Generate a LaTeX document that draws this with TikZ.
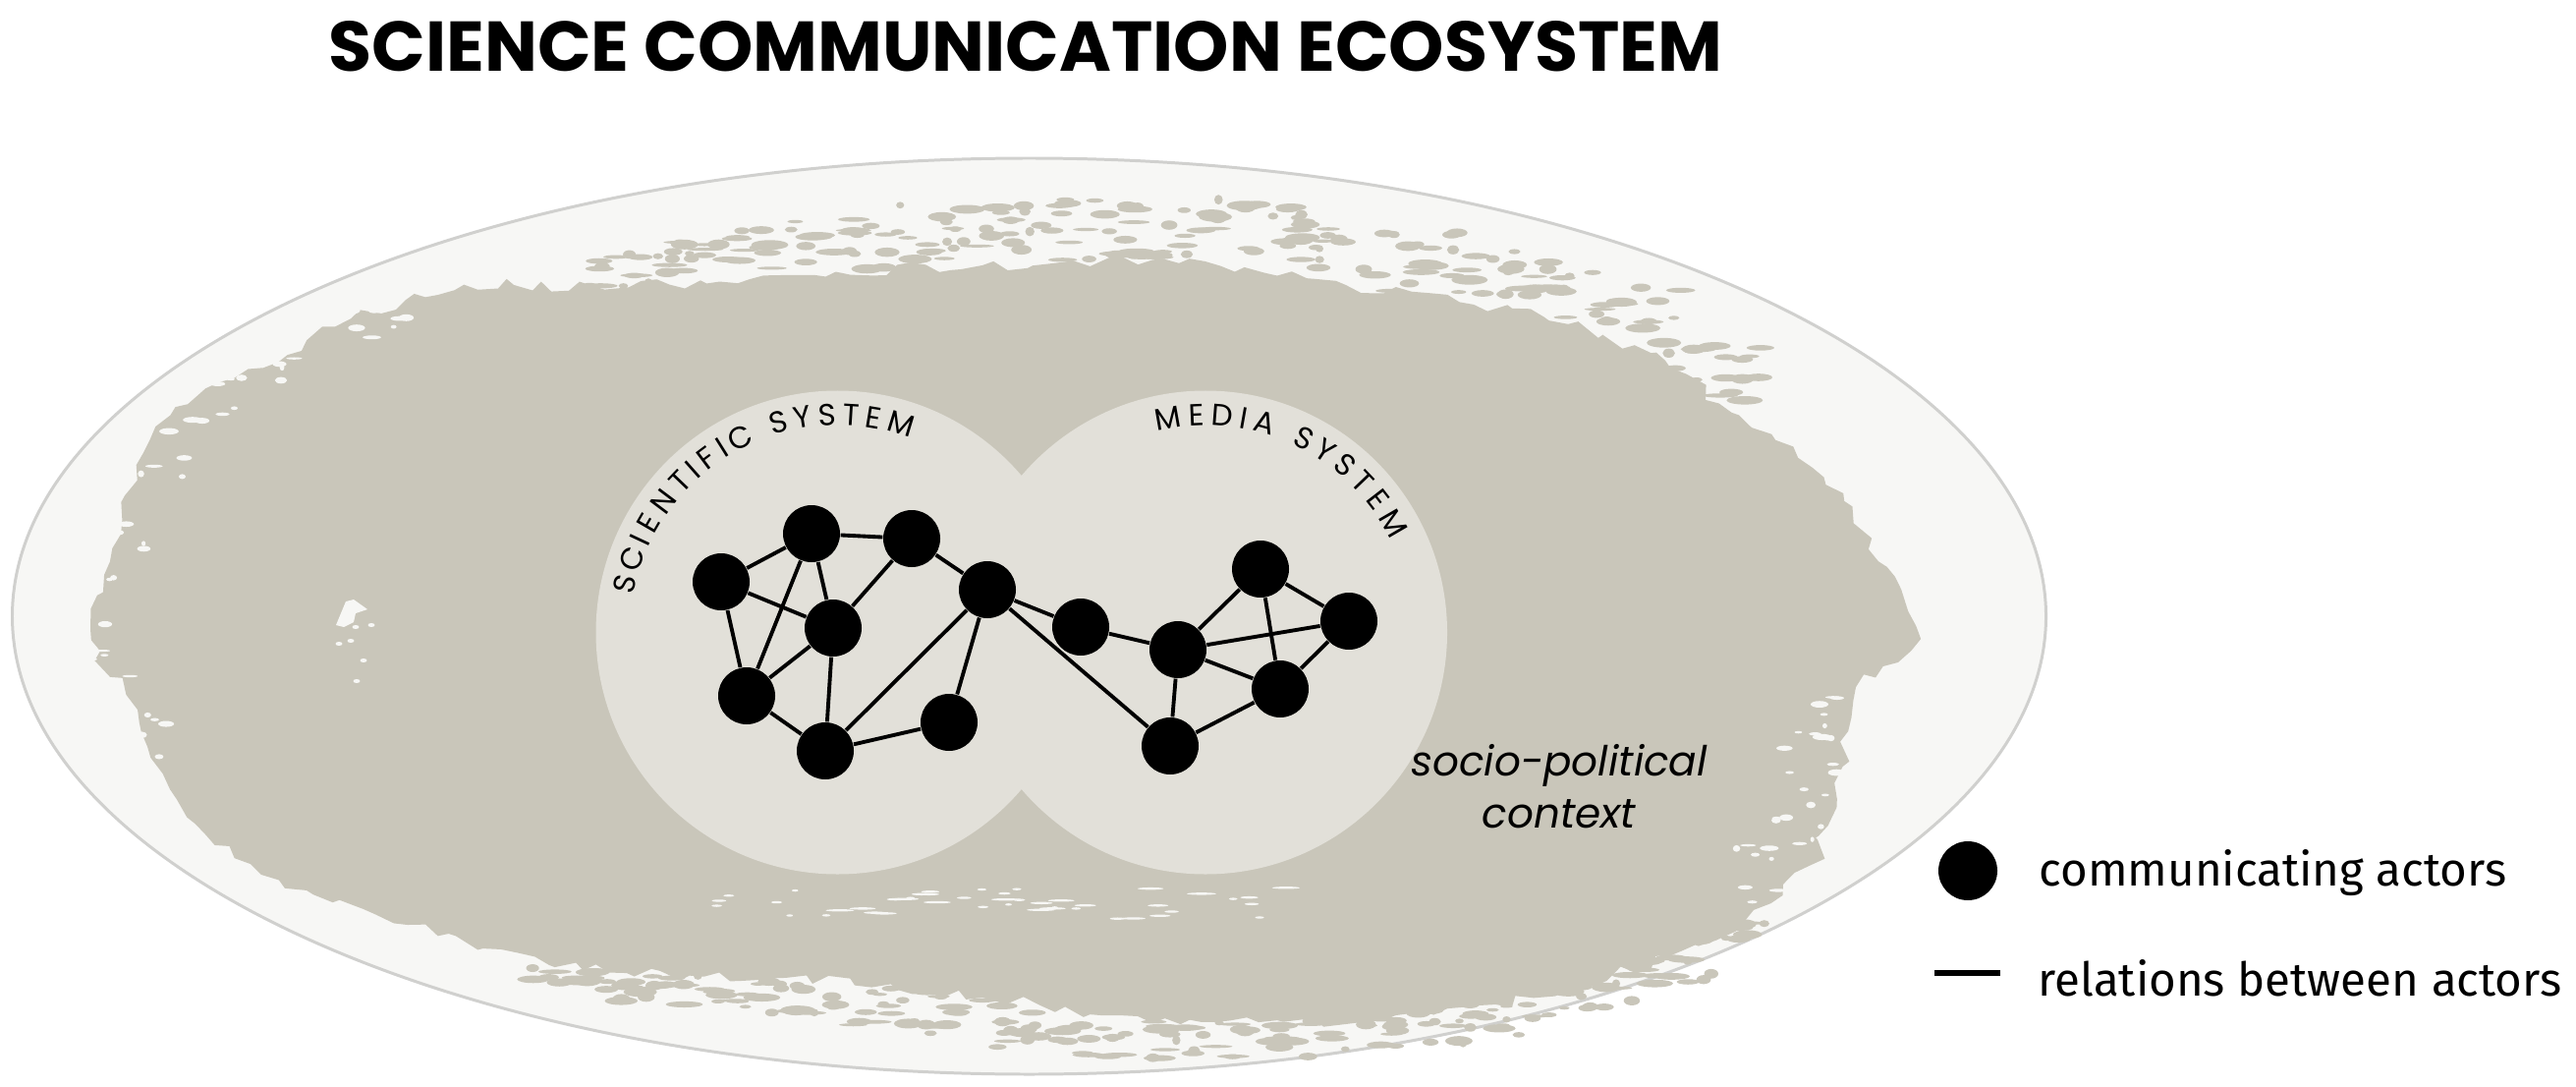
\documentclass[tikz,border=0pt]{standalone}
\usepackage{fontspec}
\setmainfont{Fira Sans}
\newfontfamily\headfont{Poppins}
\usepackage{tikz}
\usetikzlibrary{decorations.pathmorphing, positioning}
\definecolor{ctxfill}{RGB}{247,247,245}
\definecolor{ctxline}{RGB}{208,208,206}
\definecolor{brush}{RGB}{201,198,186}
\definecolor{sysfill}{RGB}{226,224,217}
\tikzset{
  actor/.style={circle, fill=black, minimum size=0.58cm, inner sep=0pt},
  relation/.style={line width=1.1pt, black},
  system/.style={circle, fill=sysfill, minimum size=4.92cm, inner sep=0pt},
  rough/.style={decorate, decoration={random steps, segment length=4pt, amplitude=1.8pt}},
  arcletter/.style={anchor=base, inner sep=0pt, font=\headfont\fontsize{8.8}{10}\selectfont},
  legendtext/.style={anchor=base west, inner sep=0pt, font=\fontsize{13.5}{16}\selectfont},
}

\begin{document}
\begin{tikzpicture}
\useasboundingbox (0,0) rectangle (26.22,-11.06);
\pgfmathsetseed{7}
% Title
\node[anchor=base, font=\headfont\bfseries\fontsize{20.4}{24}\selectfont] (title) at (10.44,-0.73) {SCIENCE COMMUNICATION ECOSYSTEM};

% Ecosystem and socio-political context
\draw[ctxline, fill=ctxfill, line width=0.85pt] (10.475,-6.27) ellipse (10.35 and 4.66);
\fill[brush, rough] plot[smooth cycle, tension=0.6] coordinates {
  (0.94,-6.51) (1.12,-5.71) (1.53,-4.48) (1.91,-4.11) (2.68,-3.74) (3.57,-3.25)
  (4.46,-3.0) (5.23,-2.9) (6.4,-2.92) (8,-2.8) (10,-2.7) (12,-2.68) (13.7,-2.9)
  (15,-3.1) (15.96,-3.3) (16.95,-3.67) (17.5,-4.1) (18.07,-4.48) (18.77,-5.10)
  (19.12,-5.71) (19.51,-6.51) (18.9,-7.0) (18.75,-7.8) (18.6,-8.4) (18.42,-8.79)
  (17.72,-9.41) (17.01,-9.72) (15.61,-10.15) (14.21,-10.33) (12.81,-10.40)
  (11.40,-10.33) (10.0,-10.15) (8,-9.95) (6.38,-9.90) (5.10,-9.66) (4.15,-9.41)
  (3.19,-9.10) (2.55,-8.79) (2.10,-8.49) (1.66,-7.87) (1.28,-7.07)};
% ragged brush fringe above the top edge
\foreach \x/\y/\h in {6.4/-2.92/0.35, 7.2/-2.86/0.45, 8.0/-2.80/0.55, 8.8/-2.76/0.6,
    9.6/-2.72/0.65, 10.4/-2.70/0.7, 11.2/-2.69/0.7, 12.0/-2.68/0.65, 12.8/-2.78/0.7,
    13.6/-2.88/0.75, 14.4/-3.0/0.7, 15.2/-3.14/0.6, 16.0/-3.3/0.7, 16.8/-3.6/0.8, 17.5/-4.1/0.6}
  \foreach \j in {1,...,16}
    \fill[brush] ({\x-0.45+0.9*rnd},{\y+\h*rnd}) ellipse ({0.04+0.15*rnd} and {0.015+0.035*rnd});
% ragged brush fringe below the bottom edge
\foreach \x/\y/\h in {5.8/-9.8/0.2, 6.6/-9.9/0.3, 7.4/-9.93/0.35,
    8.2/-9.97/0.35, 9.0/-10.05/0.4, 9.8/-10.13/0.4, 10.6/-10.22/0.45, 11.4/-10.33/0.45,
    12.2/-10.38/0.4, 13.0/-10.4/0.35, 13.8/-10.36/0.35, 14.6/-10.28/0.35, 15.4/-10.18/0.35,
    16.2/-9.98/0.3, 17.0/-9.72/0.3, 17.7/-9.35/0.25}
  \foreach \j in {1,...,14}
    \fill[brush] ({\x-0.45+0.9*rnd},{\y-\h*rnd}) ellipse ({0.04+0.15*rnd} and {0.015+0.035*rnd});
% light specks inside the brush
\foreach \x/\y in {1.6/-4.6, 2.2/-4.0, 3.0/-3.6, 3.9/-3.2, 1.2/-5.6, 1.1/-6.6, 1.4/-7.5,
    18.6/-7.2, 18.4/-7.8, 18.3/-8.4, 17.9/-8.9}
  \foreach \j in {1,...,8}
    \fill[ctxfill] ({\x-0.3+0.6*rnd},{\y-0.3+0.6*rnd}) ellipse ({0.02+0.08*rnd} and {0.01+0.025*rnd});
\fill[ctxfill] (3.42,-6.36) -- (3.52,-6.12) -- (3.6,-6.1) -- (3.74,-6.2) -- (3.62,-6.24)
  -- (3.6,-6.33) -- (3.5,-6.38) -- cycle;
\foreach \x/\y in {3.62/-6.38, 3.78/-6.36, 3.57/-6.52, 3.45/-6.55, 3.63/-6.93, 3.7/-6.72}
  \fill[ctxfill] (\x,\y) ellipse (0.035 and 0.02);
\foreach \i in {1,...,45}
  \fill[ctxfill] ({7.2+6*rnd},{-9.03-0.33*rnd}) ellipse ({0.03+0.12*rnd} and 0.012);

% Scientific and media systems
\node[system] (sci) at (8.525,-6.435) {};
\node[system] (med) at (12.27,-6.435) {};
\foreach \ch/\ang [count=\k] in {S/167.3, C/160.4, I/154.9, E/150.0, N/143.1, T/136.3,
    I/131.5, F/126.8, I/122.1, C/116.5, S/105.7, Y/99.2, S/92.7, T/86.5, E/80.5, M/73.0}
  \path (sci.center) ++(\ang:2.11) node[arcletter, rotate=\ang-90] (scil\k) {\ch};
\foreach \ch/\ang [count=\k] in {M/100.0, E/92.4, D/85.5, I/79.9, A/74.2,
    S/63.2, Y/56.6, S/50.1, T/43.8, E/37.7, M/30.1}
  \path (med.center) ++(\ang:2.11) node[arcletter, rotate=\ang-90] (medl\k) {\ch};

% Communicating actors
\node[actor] (s1) at (7.34,-5.92) {};
\node[actor] (s2) at (8.26,-5.43) {};
\node[actor] (s3) at (9.28,-5.48) {};
\node[actor] (s4) at (8.48,-6.39) {};
\node[actor] (s5) at (7.60,-7.08) {};
\node[actor] (s6) at (8.40,-7.64) {};
\node[actor] (s7) at (9.66,-7.35) {};
\node[actor] (s8) at (10.05,-6.00) {};
\node[actor] (m1) at (11.00,-6.38) {};
\node[actor] (m2) at (11.99,-6.61) {};
\node[actor] (m3) at (12.83,-5.79) {};
\node[actor] (m4) at (13.73,-6.32) {};
\node[actor] (m5) at (13.03,-7.01) {};
\node[actor] (m6) at (11.91,-7.59) {};

% Relations between actors
\draw[relation] (s1) -- (s2); \draw[relation] (s2) -- (s3);
\draw[relation] (s1) -- (s4); \draw[relation] (s1) -- (s5);
\draw[relation] (s2) -- (s5); \draw[relation] (s2) -- (s4);
\draw[relation] (s4) -- (s5); \draw[relation] (s3) -- (s4);
\draw[relation] (s4) -- (s6); \draw[relation] (s5) -- (s6);
\draw[relation] (s6) -- (s7); \draw[relation] (s6) -- (s8);
\draw[relation] (s8) -- (s7); \draw[relation] (s3) -- (s8);
\draw[relation] (s8) -- (m1); \draw[relation] (s8) -- (m6);
\draw[relation] (m1) -- (m2); \draw[relation] (m2) -- (m3);
\draw[relation] (m2) -- (m4); \draw[relation] (m2) -- (m5);
\draw[relation] (m2) -- (m6); \draw[relation] (m3) -- (m4);
\draw[relation] (m3) -- (m5); \draw[relation] (m4) -- (m5);
\draw[relation] (m5) -- (m6);

% Context label
\node[anchor=base, align=center, font=\headfont\itshape\fontsize{12}{15}\selectfont] (ctx) at (15.87,-8.42) {socio-political\\context};

% Legend
\node[actor, minimum size=0.6cm] (legactor) at (20.03,-8.86) {};
\node[legendtext] (legactortext) at (20.75,-9.01) {communicating actors};
\coordinate (legfrom) at (19.69,-9.90);
\coordinate (legto) at (20.36,-9.90);
\draw[line width=1.6pt] (legfrom) -- (legto);
\node[legendtext] (legreltext) at (20.74,-10.13) {relations between actors};
\end{tikzpicture}
\end{document}
